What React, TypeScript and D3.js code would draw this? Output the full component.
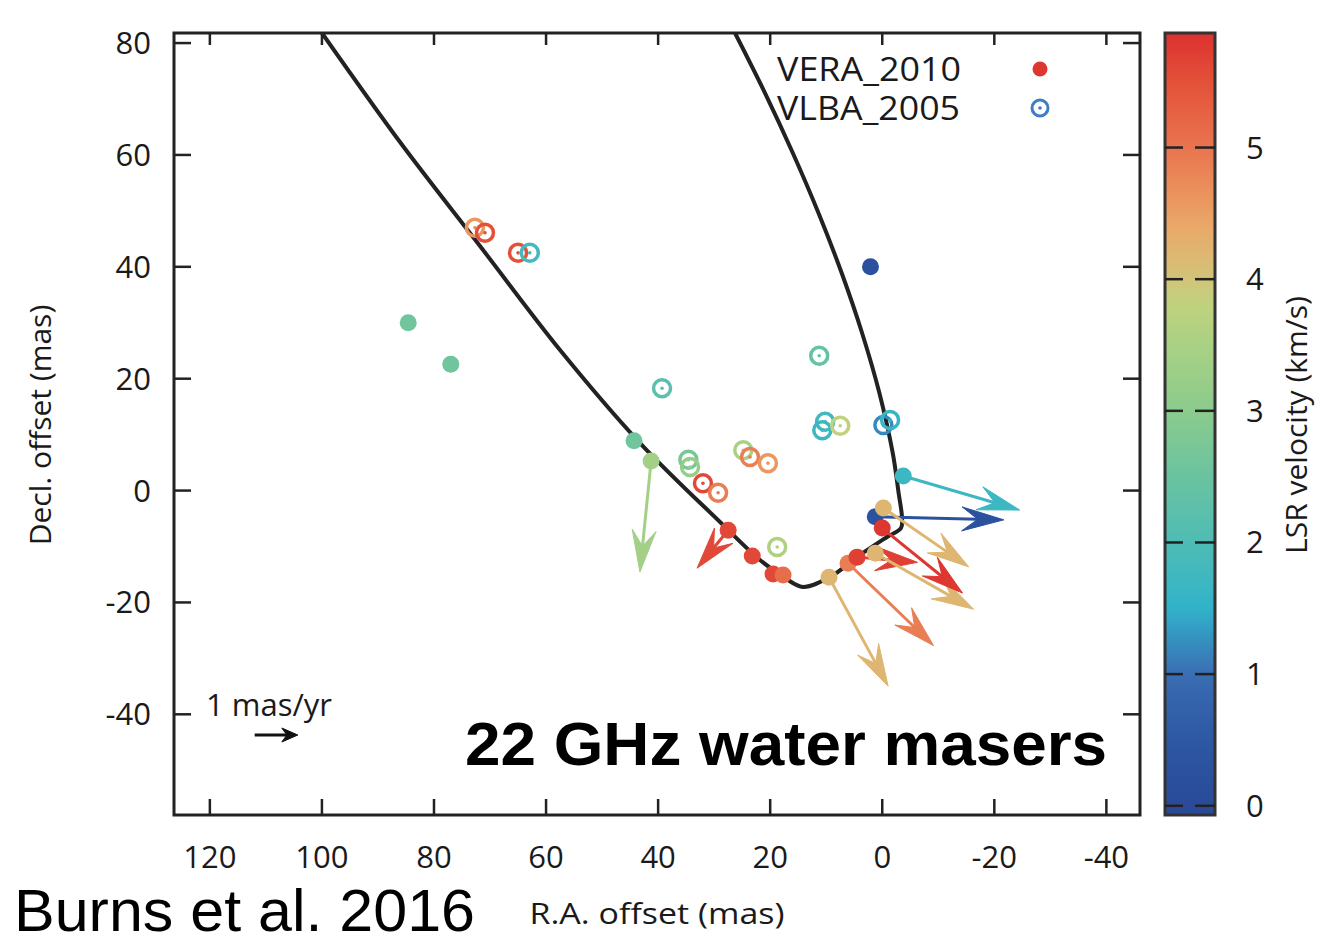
import React from "react";
import * as d3 from "d3";

// ---------- data ----------
const xTicks = [120, 100, 80, 60, 40, 20, 0, -20, -40];
const yTicks = [80, 60, 40, 20, 0, -20, -40];
const cbTicks = [0, 1, 2, 3, 4, 5];

// velocity colour stops (km/s -> colour)
const stopVel = [0, 0.5, 1, 1.5, 2, 2.5, 3, 3.5, 3.8, 4, 4.4, 5, 5.5, 5.9];
const stopCol = ["#2a4a99", "#2d58a3", "#3a6db3", "#31b3cb", "#4fbcb4", "#6ac3a0", "#8bcb8d", "#a9d184", "#c0d27e", "#d2c479", "#eaa868", "#e9744f", "#e35139", "#dc2e2f"];

// boundary curve
const curveRA = [99.99, 86.07, 71.79, 57.51, 43.23, 28.95, 21.82, 17.35, 14.14, 9.32, 3.97, -0.85, -3.35, -3.53, -2.92, -1.87, 0.51, 3.6, 7.24, 11.38, 15.96, 20.92, 26.28];
const curveDec = [81.8, 62.31, 43.72, 25.13, 8.5, -5.62, -12.41, -15.63, -17.24, -15.45, -11.52, -8.3, -6.69, -4.9, -0.43, 6.72, 17.44, 28.17, 38.89, 49.62, 60.35, 71.07, 81.8];

// VERA 2010 (filled) masers, with proper motions (mas/yr)
const veraRA = [84.6, 77.0, 2.1, 44.3, 41.25, 27.5, 23.2, 19.5, 17.7, 9.5, 6.1, 4.5, 1.25, 1.25, -0.2, 0.0, -3.75];
const veraDec = [30.0, 22.6, 40.0, 8.9, 5.3, -7.1, -11.7, -14.9, -15.1, -15.5, -13.0, -11.9, -11.2, -4.7, -3.1, -6.7, 2.6];
const veraVel = [2.6, 2.6, 0.2, 2.6, 3.4, 5.6, 5.6, 5.6, 5.1, 4.2, 4.9, 5.7, 4.2, 0.3, 4.2, 5.8, 1.7];
const veraMuRA = [0, 0, 0, 0, 0.26, 0.72, 0, 0, 0, -1.37, -1.98, -1.4, -2.28, -2.98, -1.98, -1.86, -2.7];
const veraMuDec = [0, 0, 0, 0, -2.58, -0.88, 0, 0, 0, -2.53, -1.91, -0.12, -1.3, -0.07, -1.37, -1.51, -0.79];

// VLBA 2005 (open) masers
const vlbaRA = [72.7, 70.9, 65.0, 62.9, 39.3, 11.25, 10.2, 10.7, 7.5, -0.2, -1.4, 34.6, 34.3, 32.0, 29.3, 24.8, 23.6, 20.4, 18.75];
const vlbaDec = [47.0, 46.1, 42.5, 42.5, 18.3, 24.1, 12.3, 10.8, 11.6, 11.7, 12.6, 5.5, 4.2, 1.3, -0.4, 7.2, 6.0, 4.9, -10.1];
const vlbaVel = [4.6, 5.5, 5.5, 1.8, 2.2, 2.4, 1.8, 1.7, 3.8, 1.2, 1.6, 2.7, 3.2, 5.6, 4.9, 3.5, 4.9, 4.6, 3.6];

const legendLabels = ["VERA_2010", "VLBA_2005"];
const arrowScale = 7.7; // mas of plot per 1 mas/yr
const keyRA = 112;
const keyDec = -43.7;

// ---------- layout ----------
const W = 1320, H = 936;
const L = 174, R = 1140, T = 33, B = 815;
const cbL = 1165, cbR = 1215;

const x = d3.scaleLinear().domain([126.4, -46]).range([L, R]);
const y = d3.scaleLinear().domain([-58, 81.8]).range([B, T]);
const cy = d3.scaleLinear().domain([-0.07, 5.87]).range([B, T]);
const color = d3.scaleLinear<string>().domain(stopVel).range(stopCol).interpolate(d3.interpolateRgb).clamp(true);

const tickFont = "'Open Sans', sans-serif";

function Arrow({ x1, y1, x2, y2, col, len = 42, hw = 12, notch = 26, sw = 3 }: any) {
  const a = Math.atan2(y2 - y1, x2 - x1);
  const c = Math.cos(a), s = Math.sin(a);
  const bx = x2 - len * c, by = y2 - len * s;
  const nx = x2 - notch * c, ny = y2 - notch * s;
  const p1 = [bx - hw * -s, by - hw * c];
  const p2 = [bx + hw * -s, by + hw * c];
  const d = `M${x2},${y2}L${p1[0]},${p1[1]}L${nx},${ny}L${p2[0]},${p2[1]}Z`;
  return (
    <g>
      <line x1={x1} y1={y1} x2={nx} y2={ny} stroke={col} strokeWidth={sw} />
      <path d={d} fill={col} stroke={col} strokeWidth={1} strokeLinejoin="round" />
    </g>
  );
}

export default function App() {
  const curvePts = curveRA.map((r, i) => [r, curveDec[i]] as [number, number]);
  const line = d3.line<[number, number]>().x(d => x(d[0])).y(d => y(d[1])).curve(d3.curveCatmullRom.alpha(0.5));

  const gradStops = d3.range(0, 61).map(i => {
    const v = -0.07 + (5.94 * i) / 60;
    return { off: `${(i / 60) * 100}%`, c: color(v) };
  });

  return (
    <svg width={W} height={H} style={{ position: "absolute", left: 0, top: 0, background: "#fff" }}>
      <defs>
        <clipPath id="plotClip">
          <rect x={L} y={T} width={R - L} height={B - T} />
        </clipPath>
        <linearGradient id="cbGrad" x1="0" y1="1" x2="0" y2="0">
          {gradStops.map((g, i) => (
            <stop key={i} offset={g.off} stopColor={g.c} />
          ))}
        </linearGradient>
      </defs>

      {/* boundary curve */}
      <path d={line(curvePts) || ""} fill="none" stroke="#222" strokeWidth={4} strokeLinejoin="round" clipPath="url(#plotClip)" />

      {/* VLBA rings */}
      {vlbaRA.map((r, i) => (
        <g key={"v" + i}>
          <circle cx={x(r)} cy={y(vlbaDec[i])} r={8.5} fill="none" stroke={color(vlbaVel[i])} strokeWidth={3.5} />
          <circle cx={x(r)} cy={y(vlbaDec[i])} r={1.8} fill={color(vlbaVel[i])} />
        </g>
      ))}

      {/* proper-motion arrows */}
      {veraRA.map((r, i) =>
        veraMuRA[i] === 0 && veraMuDec[i] === 0 ? null : (
          <Arrow
            key={"a" + i}
            x1={x(r)}
            y1={y(veraDec[i])}
            x2={x(r + veraMuRA[i] * arrowScale)}
            y2={y(veraDec[i] + veraMuDec[i] * arrowScale)}
            col={color(veraVel[i])}
          />
        )
      )}

      {/* VERA dots */}
      {veraRA.map((r, i) => (
        <circle key={"f" + i} cx={x(r)} cy={y(veraDec[i])} r={8.5} fill={color(veraVel[i])} />
      ))}

      {/* frame */}
      <rect x={L} y={T} width={R - L} height={B - T} fill="none" stroke="#222" strokeWidth={3} />
      {xTicks.map(t => (
        <g key={"xt" + t}>
          <line x1={x(t)} x2={x(t)} y1={B} y2={B - 16} stroke="#222" strokeWidth={2.5} />
          <line x1={x(t)} x2={x(t)} y1={T} y2={T + 12} stroke="#222" strokeWidth={2.5} />
          <text x={x(t)} y={868} textAnchor="middle" fontFamily={tickFont} fontSize={31} fontWeight={500} fill="#1a1a1a">
            {t}
          </text>
        </g>
      ))}
      {yTicks.map(t => (
        <g key={"yt" + t}>
          <line x1={L} x2={L + 17} y1={y(t)} y2={y(t)} stroke="#222" strokeWidth={2.5} />
          <line x1={R} x2={R - 17} y1={y(t)} y2={y(t)} stroke="#222" strokeWidth={2.5} />
          <text x={151} y={y(t) + 11} textAnchor="end" fontFamily={tickFont} fontSize={31} fontWeight={500} fill="#1a1a1a">
            {t}
          </text>
        </g>
      ))}

      {/* axis titles */}
      <text transform={`translate(51,425) rotate(-90)`} textAnchor="middle" fontFamily={tickFont} fontSize={30} fill="#1a1a1a">
        Decl. offset (mas)
      </text>
      <text x={657} y={924} textAnchor="middle" fontFamily={tickFont} fontSize={29} fill="#1a1a1a" textLength={255} lengthAdjust="spacingAndGlyphs">
        R.A. offset (mas)
      </text>

      {/* legend */}
      <text x={777} y={81} fontFamily={tickFont} fontSize={32} fill="#1a1a1a" textLength={184} lengthAdjust="spacingAndGlyphs">{legendLabels[0]}</text>
      <text x={777} y={120} fontFamily={tickFont} fontSize={32} fill="#1a1a1a" textLength={183} lengthAdjust="spacingAndGlyphs">{legendLabels[1]}</text>
      <circle cx={1040} cy={69} r={7.5} fill={color(5.8)} />
      <circle cx={1040} cy={108} r={8} fill="none" stroke="#3f7fc1" strokeWidth={3} />
      <circle cx={1040} cy={108} r={1.8} fill="#3f7fc1" />

      {/* scale key */}
      <text x={206} y={716} fontFamily={tickFont} fontSize={31} fill="#1a1a1a">1 mas/yr</text>
      <Arrow x1={x(keyRA)} y1={y(keyDec)} x2={x(keyRA - 1 * arrowScale)} y2={y(keyDec)} col="#111" len={16} hw={7} notch={11} sw={3} />

      {/* panel title */}
      <text x={465} y={765} fontFamily="'Liberation Sans', Arial, sans-serif" fontWeight={700} fontSize={62} fill="#000" textLength={642} lengthAdjust="spacingAndGlyphs">
        22 GHz water masers
      </text>

      {/* colour bar */}
      <rect x={cbL} y={T} width={cbR - cbL} height={B - T} fill="url(#cbGrad)" stroke="#333" strokeWidth={3} />
      {cbTicks.map(t => (
        <g key={"cb" + t}>
          <line x1={cbL} x2={cbL + 18} y1={cy(t)} y2={cy(t)} stroke="#222" strokeWidth={2.5} />
          <line x1={cbR - 20} x2={cbR} y1={cy(t)} y2={cy(t)} stroke="#222" strokeWidth={2.5} />
          <text x={1246} y={cy(t) + 11} fontFamily={tickFont} fontSize={31} fontWeight={500} fill="#1a1a1a">
            {t}
          </text>
        </g>
      ))}
      <text transform={`translate(1307,425) rotate(-90)`} textAnchor="middle" fontFamily={tickFont} fontSize={30} fill="#1a1a1a">
        LSR velocity (km/s)
      </text>

      {/* citation */}
      <text x={14} y={931} fontFamily="'Liberation Sans', Arial, sans-serif" fontSize={59} fill="#000" textLength={461} lengthAdjust="spacingAndGlyphs">
        Burns et al. 2016
      </text>
    </svg>
  );
}
